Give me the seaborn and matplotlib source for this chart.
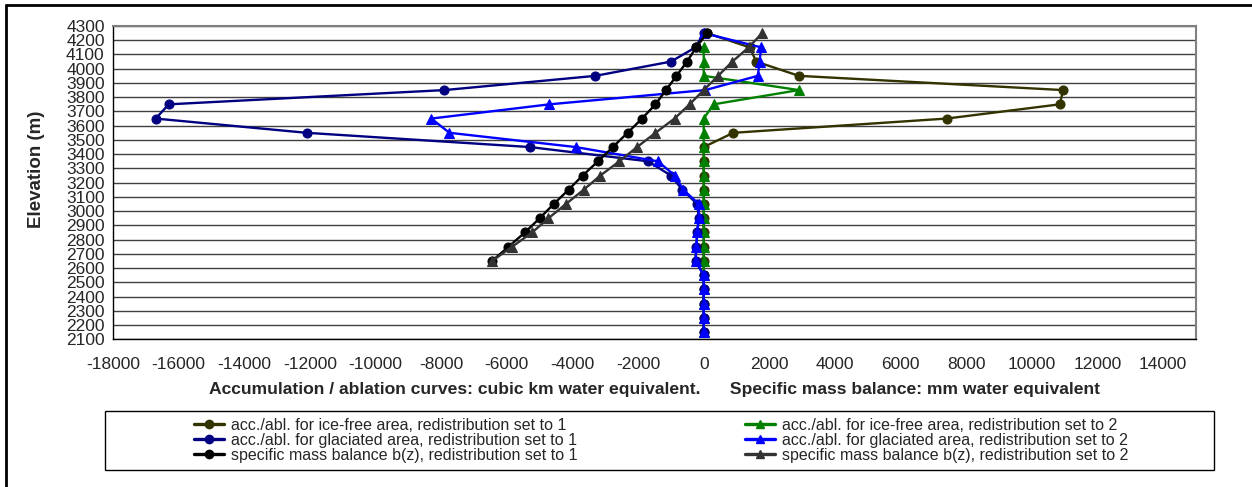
import matplotlib
matplotlib.use("Agg")
import matplotlib.pyplot as plt
from matplotlib.patches import Rectangle
from matplotlib.lines import Line2D
import numpy as np
import seaborn as sns

# elevation band midpoints (m)
elev = [2150, 2250, 2350, 2450, 2550, 2650, 2750, 2850, 2950, 3050, 3150,
        3250, 3350, 3450, 3550, 3650, 3750, 3850, 3950, 4050, 4150, 4250]
elev_bz = elev[5:]

icefree_r1 = [0, 0, 0, 0, 0, 0, 0, 0, 0, 0, 0, 0, 0, 0,
              900, 7400, 10850, 10950, 2900, 1600, 1400, 100]
icefree_r2 = [0, 0, 0, 0, 0, 0, 0, 0, 0, 0, 0, 0, 0, 0,
              0, 0, 300, 2900, 0, 0, 0]
glac_r1 = [0, 0, 0, 0, 0, -250, -225, -200, -150, -200, -650, -1000, -1700,
           -5300, -12100, -16700, -16300, -7900, -3300, -1000, -250, 0]
glac_r2 = [0, 0, 0, 0, 0, -250, -225, -200, -150, -150, -620, -880, -1400,
           -3900, -7750, -8300, -4700, 50, 1650, 1700, 1750, 0]
bz_r1 = [-6450, -5950, -5450, -5000, -4570, -4120, -3690, -3220, -2770,
         -2320, -1880, -1470, -1150, -830, -510, -230, 100]
bz_r2 = [-6450, -5840, -5230, -4730, -4200, -3660, -3150, -2570, -2030,
         -1470, -890, -430, 0, 440, 870, 1370, 1780]

labels = ["acc./abl. for ice-free area, redistribution set to 1",
          "acc./abl. for ice-free area, redistribution set to 2",
          "acc./abl. for glaciated area, redistribution set to 1",
          "acc./abl. for glaciated area, redistribution set to 2",
          "specific mass balance b(z), redistribution set to 1",
          "specific mass balance b(z), redistribution set to 2"]

sns.set_style("white")
plt.rcParams['font.family'] = ['Liberation Sans', 'DejaVu Sans']
plt.rcParams['axes.unicode_minus'] = False

fig = plt.figure(figsize=(12.52, 4.87), dpi=100)
ax = fig.add_axes([113 / 1252, 1 - 339.3 / 487, (1196 - 113) / 1252, (339.3 - 26) / 487])

series = [
    (icefree_r1, elev, "#333300", "o"),
    (icefree_r2, elev[:-1], "#008000", "^"),
    (glac_r1, elev, "#000080", "o"),
    (glac_r2, elev, "#0000FF", "^"),
    (bz_r1, elev_bz, "#000000", "o"),
    (bz_r2, elev_bz, "#333333", "^"),
]
handles = []
for (vals, ys, col, mk), lab in zip(series, labels):
    sns.lineplot(x=vals, y=ys, sort=False, estimator=None, ax=ax,
                 color=col, lw=1.7, marker=mk, ms=6.5, mec=col, mfc=col)
    handles.append(Line2D([], [], color=col, lw=2.4, marker=mk, ms=6,
                          mec=col, mfc=col, label=lab))
if ax.get_legend():
    ax.get_legend().remove()

ax.set_xlim(-18000, 15000)
ax.set_ylim(2100, 4300)
ax.set_xticks(np.arange(-18000, 14001, 2000))
ax.set_xticks(np.arange(-18000, 15001, 400), minor=True)
ax.set_yticks(np.arange(2100, 4301, 100))
ax.grid(axis="y", color="#404040", lw=1.0)
ax.grid(axis="x", visible=False)
ax.set_axisbelow(True)
ax.tick_params(axis="both", which="major", direction="out", length=4,
               width=1, labelsize=12.5, color="black", pad=2)
ax.tick_params(axis="x", which="minor", direction="out", length=3,
               width=0.8, color="black")
ax.tick_params(axis="x", pad=9)
for s in ["left", "bottom"]:
    ax.spines[s].set_color("black")
    ax.spines[s].set_linewidth(1.0)
for s in ["top", "right"]:
    ax.spines[s].set_color("#808080")
    ax.spines[s].set_linewidth(1.5)

ax.set_xlabel("Accumulation / ablation curves: cubic km water equivalent."
              "      Specific mass balance: mm water equivalent",
              fontsize=12.6, fontweight="bold", labelpad=7)
ax.set_ylabel("Elevation (m)", fontsize=13.5, fontweight="bold")
ax.yaxis.set_label_coords(-0.063, 0.544)

order = [0, 2, 4, 1, 3, 5]
fig.legend([handles[i] for i in order], [labels[i] for i in order],
           ncol=2, frameon=False, loc="center",
           bbox_to_anchor=(661 / 1252, 1 - 440.5 / 487), fontsize=11.5,
           handlelength=1.9, handletextpad=0.4, columnspacing=10.5,
           labelspacing=0.0, borderpad=0.1)
fig.patches.append(Rectangle((105 / 1252, 1 - 470 / 487), (1214 - 105) / 1252,
                             (470 - 411) / 487, transform=fig.transFigure,
                             fill=False, ec="black", lw=1.0))
# outer chart frame (cropped on right/bottom)
fig.add_artist(Line2D([6 / 1252, 6 / 1252], [0, 1 - 5 / 487], color="black",
                      lw=2, transform=fig.transFigure))
fig.add_artist(Line2D([6 / 1252, 1], [1 - 5 / 487, 1 - 5 / 487], color="black",
                      lw=2, transform=fig.transFigure))

fig.savefig("out.png", dpi=100)
